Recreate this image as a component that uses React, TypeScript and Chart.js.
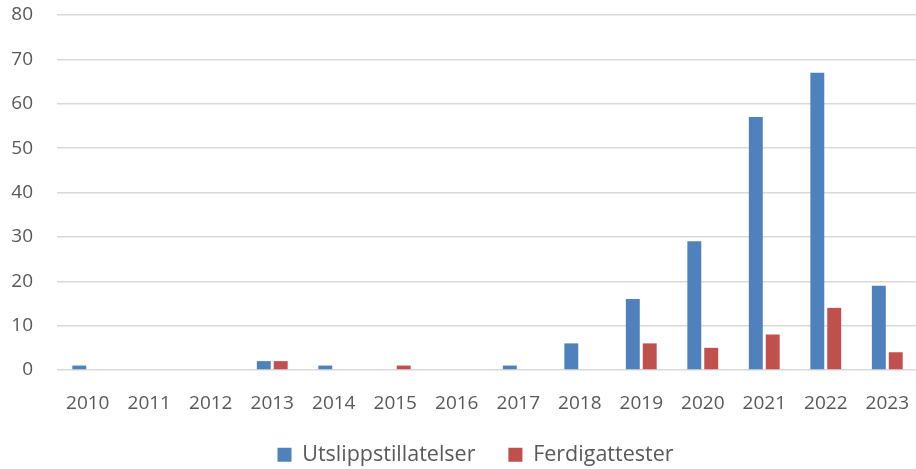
import React, { useEffect, useRef } from "react";
import { Chart, registerables } from "chart.js";

Chart.register(...registerables);

const categories = ["2010", "2011", "2012", "2013", "2014", "2015", "2016", "2017", "2018", "2019", "2020", "2021", "2022", "2023"];
const utslippstillatelser = [1, 0, 0, 2, 1, 0, 0, 1, 6, 16, 29, 57, 67, 19];
const ferdigattester = [0, 0, 0, 2, 0, 1, 0, 0, 0, 6, 5, 8, 14, 4];
const seriesNames = ["Utslippstillatelser", "Ferdigattester"];

const FONT = "'Open Sans', Lato, sans-serif";
const TEXT = "#595959";

const legendShift = {
  id: "legendShift",
  afterLayout(chart: any) {
    const l = chart.legend;
    if (!l) return;
    const dx = 14;
    l.left += dx;
    l.right += dx;
  },
};

export default function App() {
  const ref = useRef<HTMLCanvasElement | null>(null);
  useEffect(() => {
    if (!ref.current) return;
    const chart = new Chart(ref.current, {
      type: "bar",
      data: {
        labels: categories,
        datasets: [
          {
            label: seriesNames[0],
            data: utslippstillatelser,
            backgroundColor: "#4F81BD",
            categoryPercentage: 0.55,
            barPercentage: 0.8235,
          },
          {
            label: seriesNames[1],
            data: ferdigattester,
            backgroundColor: "#C0504D",
            categoryPercentage: 0.55,
            barPercentage: 0.8235,
          },
        ],
      },
      options: {
        responsive: false,
        animation: false,
        layout: { padding: { top: 15, left: 0, right: 0, bottom: 0 } },
        plugins: {
          tooltip: { enabled: false },
          legend: {
            position: "bottom",
            maxHeight: 58,
            labels: {
              boxWidth: 14,
              boxHeight: 14,
              padding: 33,
              color: TEXT,
              font: { family: FONT, size: 21.5 },
            },
          },
        },
        scales: {
          x: {
            grid: { display: false },
            border: { display: false },
            ticks: {
              color: TEXT,
              padding: 14,
              maxRotation: 0,
              autoSkip: false,
              font: { family: FONT, size: 19 },
            },
            afterFit(scale: any) {
              scale.height = 41;
            },
          },
          y: {
            min: 0,
            max: 80,
            border: { display: false },
            grid: { color: "#D9D9D9", lineWidth: 1.5, drawTicks: false },
            ticks: {
              stepSize: 10,
              color: TEXT,
              padding: 24,
              font: { family: FONT, size: 19 },
            },
            afterFit(scale: any) {
              scale.width = 57;
              scale.paddingTop = 0;
              scale.paddingBottom = 0;
            },
          },
        },
      },
      plugins: [legendShift],
    });
    return () => chart.destroy();
  }, []);

  return (
    <div style={{ position: "fixed", left: 0, top: 0, width: 916, height: 469, overflow: "hidden", background: "#fff" }}>
      <canvas ref={ref} width={923} height={469} style={{ display: "block" }} />
    </div>
  );
}
